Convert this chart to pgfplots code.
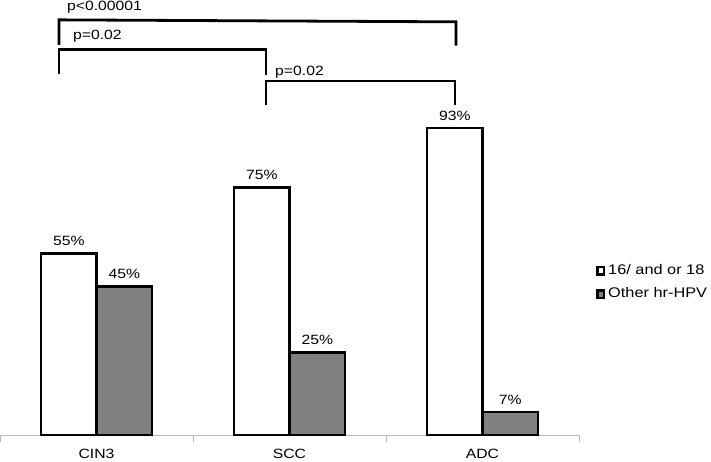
\documentclass[border=0pt]{standalone}
\usepackage{fontspec}
\setmainfont{Liberation Sans}
\newfontfamily\arialx{Liberation Sans}[FakeStretch=1.17]
\usepackage{pgfplots}
\pgfplotsset{compat=1.18}
\newcommand{\cf}{\arialx\fontsize{13.5}{16}\selectfont}
\newcommand{\lf}{\arialx\fontsize{14}{16}\selectfont}
\begin{document}
\begin{tikzpicture}
\path[use as bounding box] (0,0) rectangle (711bp,462bp);
\begin{axis}[
  at={(0bp,27bp)}, anchor=south west,
  scale only axis, width=579bp, height=435bp,
  xmin=-0.5, xmax=2.5, ymin=0, ymax=131.82,
  ybar=0pt, bar width=55.5bp,
  axis x line*=bottom, axis y line=none,
  x axis line style={draw=black!28, line width=0.8bp, -},
  xtick={0,1,2}, xticklabels={CIN3,SCC,ADC},
  major tick length=0pt,
  extra x ticks={-0.5,0.5,1.5,2.5}, extra x tick labels={},
  extra x tick style={major tick length=7bp, tick align=outside, tick style={draw=black!28, line width=0.8bp}},
  xticklabel style={font=\cf, inner sep=1bp, yshift=-12.5bp},
  /pgf/number format/assume math mode=true,
  nodes near coords={\pgfmathprintnumber{\pgfplotspointmeta}\%},
  every node near coord/.append style={font=\cf, yshift=3bp, black},
  legend style={draw=none, fill=none, inner sep=0pt, at={(1.0294,0.3506)}, anchor=west,
    font=\lf, row sep=4.4bp, nodes={text height=10bp, text depth=3bp, font=\lf, inner sep=3bp},
    /tikz/every even column/.append style={column sep=0bp}},
  legend cell align=left,
  clip=false,
]
\addplot[fill=white, draw=black, line width=2.7bp,
  legend image code/.code={\draw[fill=white,draw=black,line width=2.5bp] (0bp,-3.6bp) rectangle (6.5bp,3.6bp);}]
  coordinates {(0,55) (1,75) (2,93)};
\addlegendentry{16/ and or 18}
\addplot[fill=black!50, draw=black, line width=2.7bp,
  legend image code/.code={\draw[fill=black!50,draw=black,line width=2.5bp] (0bp,-3.6bp) rectangle (6.5bp,3.6bp);}]
  coordinates {(0,45) (1,25) (2,7)};
\addlegendentry{Other hr-HPV}
\draw[line width=2.8bp] (-0.194,118.2) -- (-0.194,125.8) -- (1.863,125.2) -- (1.863,118.0);
\draw[line width=2.8bp] (-0.194,109.4) -- (-0.194,116.7) -- (0.878,116.7) -- (0.878,109.2);
\draw[line width=2.8bp] (0.878,100.0) -- (0.878,107.3) -- (1.858,107.3) -- (1.858,100.0);
\node[anchor=west, inner sep=0pt, font=\cf] at (-0.153,129.6) {p<0.00001};
\node[anchor=west, inner sep=0pt, font=\cf] at (-0.122,120.7) {p=0.02};
\node[anchor=west, inner sep=0pt, font=\cf] at (0.925,110.0) {p=0.02};
\end{axis}
\end{tikzpicture}
\end{document}
